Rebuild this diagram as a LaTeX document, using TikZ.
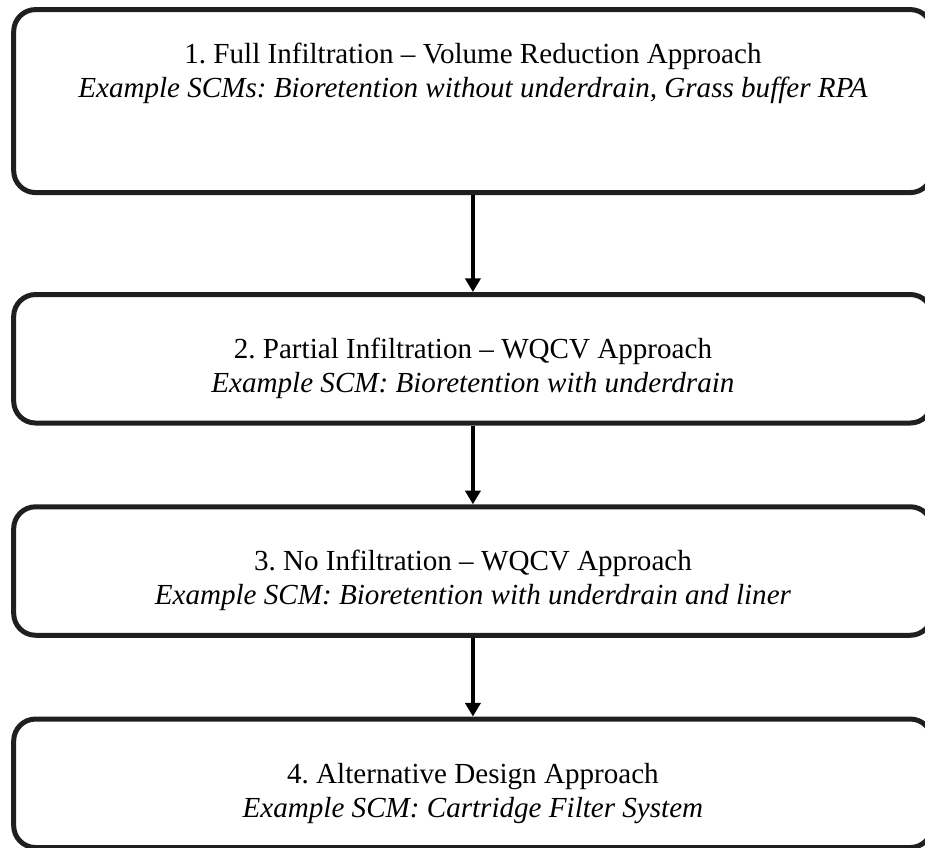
\documentclass[tikz,border=0pt]{standalone}
\usepackage{fontspec}
\setmainfont{Liberation Serif}
\frenchspacing
\usetikzlibrary{arrows.meta, positioning}

\begin{document}
\begin{tikzpicture}[
    node distance=32.5pt,
    box/.style={rectangle, draw=black!88, line width=2.06pt, rounded corners=9pt, minimum width=378.9pt},
    tallbox/.style={box, minimum height=75.5pt},
    shortbox/.style={box, minimum height=53pt},
    head/.style={anchor=base, inner sep=0pt, font=\fontsize{12}{14}\selectfont},
    example/.style={head, font=\fontsize{12}{14}\selectfont\itshape},
    arrow/.style={-{Triangle[width=6.2pt,length=5.6pt]}, line width=1.65pt}
]
\useasboundingbox (0,0) rectangle (381.6pt,-349.8pt);

\node[tallbox] (a) at (195.1pt,-41.7pt) {};
\node[shortbox, below=40pt of a] (b) {};
\node[shortbox, below=of b] (c) {};
\node[shortbox, below=of c] (d) {};

\node[head] (a1) at ([yshift=-23.1pt]a.north) {1. Full Infiltration -- Volume Reduction Approach};
\node[example] (a2) at ([yshift=-14pt]a1.base) {Example SCMs: Bioretention without underdrain, Grass buffer RPA};
\node[head] (b1) at ([yshift=-27.5pt]b.north) {2. Partial Infiltration -- WQCV Approach};
\node[example] (b2) at ([yshift=-14pt]b1.base) {Example SCM: Bioretention with underdrain};
\node[head] (c1) at ([yshift=-27.5pt]c.north) {3. No Infiltration -- WQCV Approach};
\node[example] (c2) at ([yshift=-14pt]c1.base) {Example SCM: Bioretention with underdrain and liner};
\node[head] (d1) at ([yshift=-27.5pt]d.north) {4. Alternative Design Approach};
\node[example] (d2) at ([yshift=-14pt]d1.base) {Example SCM: Cartridge Filter System};

\draw[arrow] (a) -- (b);
\draw[arrow] (b) -- (c);
\draw[arrow] (c) -- (d);
\end{tikzpicture}
\end{document}
